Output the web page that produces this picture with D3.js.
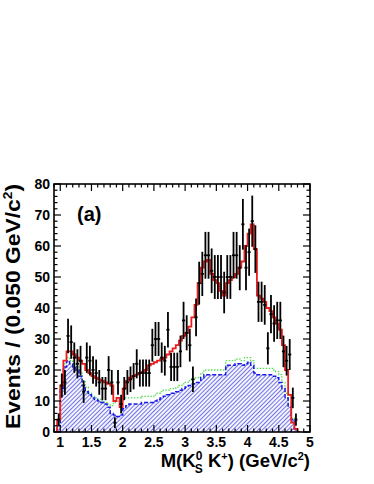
<!DOCTYPE html>
<html><head><meta charset="utf-8">
<script src="https://cdn.jsdelivr.net/npm/d3@7"></script>
<style>body{margin:0;background:#fff}svg{display:block}</style>
</head><body>
<svg id="c" width="374" height="484"></svg>
<script>
// bin centres (GeV/c^2), 0.050 GeV bins
const binCenters = d3.range(78).map(i => +(0.975 + 0.05 * i).toFixed(3));
const dataCounts = [4,15,16,31,29,24,22,23,13,24,23,20,19,16,14,14,20,16,3,16,9,14,16,17,18,22,19,19,19,19,28,30,30,24,23,33,21,21,21,26,36,32,28,17,37,48,51,57,57,52,50,50,50,45,50,50,57,57,53,67,53,58,68,59,42,42,41,27,38,35,36,36,26,23,25,11,4,0];
const fitTotal = [4,15,23,26,26,25,24,23,22,20,19,18,17.5,17,16.5,16,15.5,15,10,11,8,14,16.5,17.5,18,18.5,19,19.5,20,21.5,22,22.5,23,23.5,24,25,26,27,28,29.5,31,32,34,37,41,48,53,55,55.5,51,49,48,45.5,44,48,49,50,51,53,55,60,64,67,59,44,43,42,40,39,37,35,33,28,20,12,3,1,0];
const bkgGreen = [2.5,15,22,24,23,22,21,19.5,16.5,14.5,12.5,11.5,11,10.5,10,9.5,9,8.5,9.5,10,10,11,11,11,11,11,11,11.5,11.5,11.5,11.5,12,12.5,13,13.5,13.5,14,14,14.5,15,15.5,16,16.5,17,17.5,17.5,19,20,20,20,20,20,20,20,23,23,23,23.5,23.5,23,24,24,23,20.5,20.5,20.5,20.5,20.5,20.5,20,19.5,18.5,16,12.5,9,4.5,1,0];
const bkgBlue = [2,14,21,23,22,21,20,18,15,13,12,11,10.5,10,9.5,9,8,6,5.5,5,5.5,7.5,8.5,9,9,9,9,9.5,9.5,9.5,9.5,10,10.5,11,11.5,12,12.5,12.5,13,13.5,14,14.5,15,15.5,16,16,17.5,18.5,18.5,18.5,18.5,18.5,18.5,18.5,21.5,21.5,21.5,22,22,21.5,22,22.5,21.5,19,18.5,18.5,18.5,18.5,18.5,18,17.5,16,14,11,8,4,1,0];
const xTicks = [1,1.5,2,2.5,3,3.5,4,4.5,5];
const yTicks = [0,10,20,30,40,50,60,70,80];

const svg = d3.select("#c");
const L = 54, R = 310, T = 184, B = 432;
const x = d3.scaleLinear().domain([0.9, 5.0]).range([L, R]);
const y = d3.scaleLinear().domain([0, 80]).range([B, T]);
const hw = 0.025;

const defs = svg.append("defs");
const pat = defs.append("pattern").attr("id","hatch").attr("patternUnits","userSpaceOnUse")
  .attr("width",3).attr("height",3).attr("patternTransform","rotate(45)");
pat.append("rect").attr("width",3).attr("height",3).attr("fill","#f4f4ff");
pat.append("line").attr("x1",0).attr("y1",0).attr("x2",0).attr("y2",3)
  .attr("stroke","#3c3cd8").attr("stroke-width",1.4);
defs.append("clipPath").attr("id","clip").append("rect")
  .attr("x",L).attr("y",T).attr("width",R-L).attr("height",B-T);

function histPts(vals){
  const pts = [[binCenters[0]-hw, 0]];
  vals.forEach((v,i)=>pts.push([binCenters[i]-hw, v]));
  const last = binCenters[vals.length-1]+hw;
  pts.push([last, vals[vals.length-1]]);
  return pts;
}
const stepLine = d3.line().x(d=>x(d[0])).y(d=>y(d[1])).curve(d3.curveStepAfter);
const stepArea = d3.area().x(d=>x(d[0])).y0(y(0)).y1(d=>y(d[1])).curve(d3.curveStepAfter);

const g = svg.append("g").attr("clip-path","url(#clip)");
g.append("path").attr("d", stepArea(histPts(bkgBlue))).attr("fill","url(#hatch)");
g.append("path").attr("d", stepLine(histPts(bkgGreen))).attr("fill","none")
  .attr("stroke","#55e055").attr("stroke-width",1.3).attr("stroke-dasharray","1.5,1.5");
g.append("path").attr("d", stepLine(histPts(bkgBlue))).attr("fill","none")
  .attr("stroke","#1a1ae6").attr("stroke-width",1.5).attr("stroke-dasharray","4,2");
g.append("path").attr("d", stepLine(histPts(fitTotal))).attr("fill","none")
  .attr("stroke","#ee1c1c").attr("stroke-width",1.8);

// data points with sqrt(N) error bars
const pts = g.append("g");
binCenters.forEach((c,i)=>{
  const n = dataCounts[i];
  if(n<=0) return;
  const e = Math.sqrt(n);
  pts.append("line").attr("x1",x(c)).attr("x2",x(c)).attr("y1",y(n+e)).attr("y2",y(Math.max(0,n-e)))
    .attr("stroke","#000").attr("stroke-width",1.8);
  pts.append("line").attr("x1",x(c-hw)).attr("x2",x(c+hw)).attr("y1",y(n)).attr("y2",y(n))
    .attr("stroke","#000").attr("stroke-width",1.8);
});

// frame
svg.append("rect").attr("x",L).attr("y",T).attr("width",R-L).attr("height",B-T)
  .attr("fill","none").attr("stroke","#000").attr("stroke-width",1.6);

// ticks (inside, all four sides)
const ax = svg.append("g").attr("stroke","#000").attr("stroke-width",1.2);
d3.range(0.9, 5.001, 0.1).forEach(v=>{
  const major = Math.abs(v*2 - Math.round(v*2)) < 1e-6;
  const len = major ? 7 : 3.5;
  ax.append("line").attr("x1",x(v)).attr("x2",x(v)).attr("y1",B).attr("y2",B-len);
  ax.append("line").attr("x1",x(v)).attr("x2",x(v)).attr("y1",T).attr("y2",T+len);
});
d3.range(0, 80.001, 2).forEach(v=>{
  const major = v % 10 === 0;
  const len = major ? 7 : 3.5;
  ax.append("line").attr("x1",L).attr("x2",L+len).attr("y1",y(v)).attr("y2",y(v));
  ax.append("line").attr("x1",R).attr("x2",R-len).attr("y1",y(v)).attr("y2",y(v));
});

const font = "'Liberation Sans', Arial, Helvetica, sans-serif";
svg.append("g").selectAll("text").data(xTicks).join("text")
  .attr("x",d=>x(d)).attr("y",B+15).attr("text-anchor","middle")
  .attr("font-family",font).attr("font-weight","bold").attr("font-size",14)
  .text(d=>d);
svg.append("g").selectAll("text").data(yTicks).join("text")
  .attr("x",L-4).attr("y",d=>y(d)+5).attr("text-anchor","end")
  .attr("font-family",font).attr("font-weight","bold").attr("font-size",14)
  .text(d=>d);

// axis titles
const xt = svg.append("text").attr("x",R).attr("y",467).attr("text-anchor","end")
  .attr("font-family",font).attr("font-weight","bold").attr("font-size",18.5);
xt.append("tspan").text("M(K");
xt.append("tspan").attr("font-size",12).attr("dy",-7).text("0");
xt.append("tspan").attr("font-size",12).attr("dx",-7.5).attr("dy",13).text("S");
xt.append("tspan").attr("dy",-6).text(" K");
xt.append("tspan").attr("font-size",11).attr("dy",-7).text("+");
xt.append("tspan").attr("dy",7).text(") (GeV/c");
xt.append("tspan").attr("font-size",11).attr("dy",-7).text("2");
xt.append("tspan").attr("dy",7).text(")");

const yt = svg.append("text").attr("transform",`translate(20,${T}) rotate(-90)`)
  .attr("text-anchor","end").attr("font-family",font).attr("font-weight","bold").attr("font-size",20)
  .attr("textLength",245).attr("lengthAdjust","spacingAndGlyphs");
yt.append("tspan").text("Events / (0.050 GeV/c");
yt.append("tspan").attr("font-size",12).attr("dy",-8).text("2");
yt.append("tspan").attr("dy",8).text(")");

svg.append("text").attr("x",77).attr("y",221).attr("font-family",font)
  .attr("font-weight","bold").attr("font-size",20).text("(a)");
</script>
</body></html>
